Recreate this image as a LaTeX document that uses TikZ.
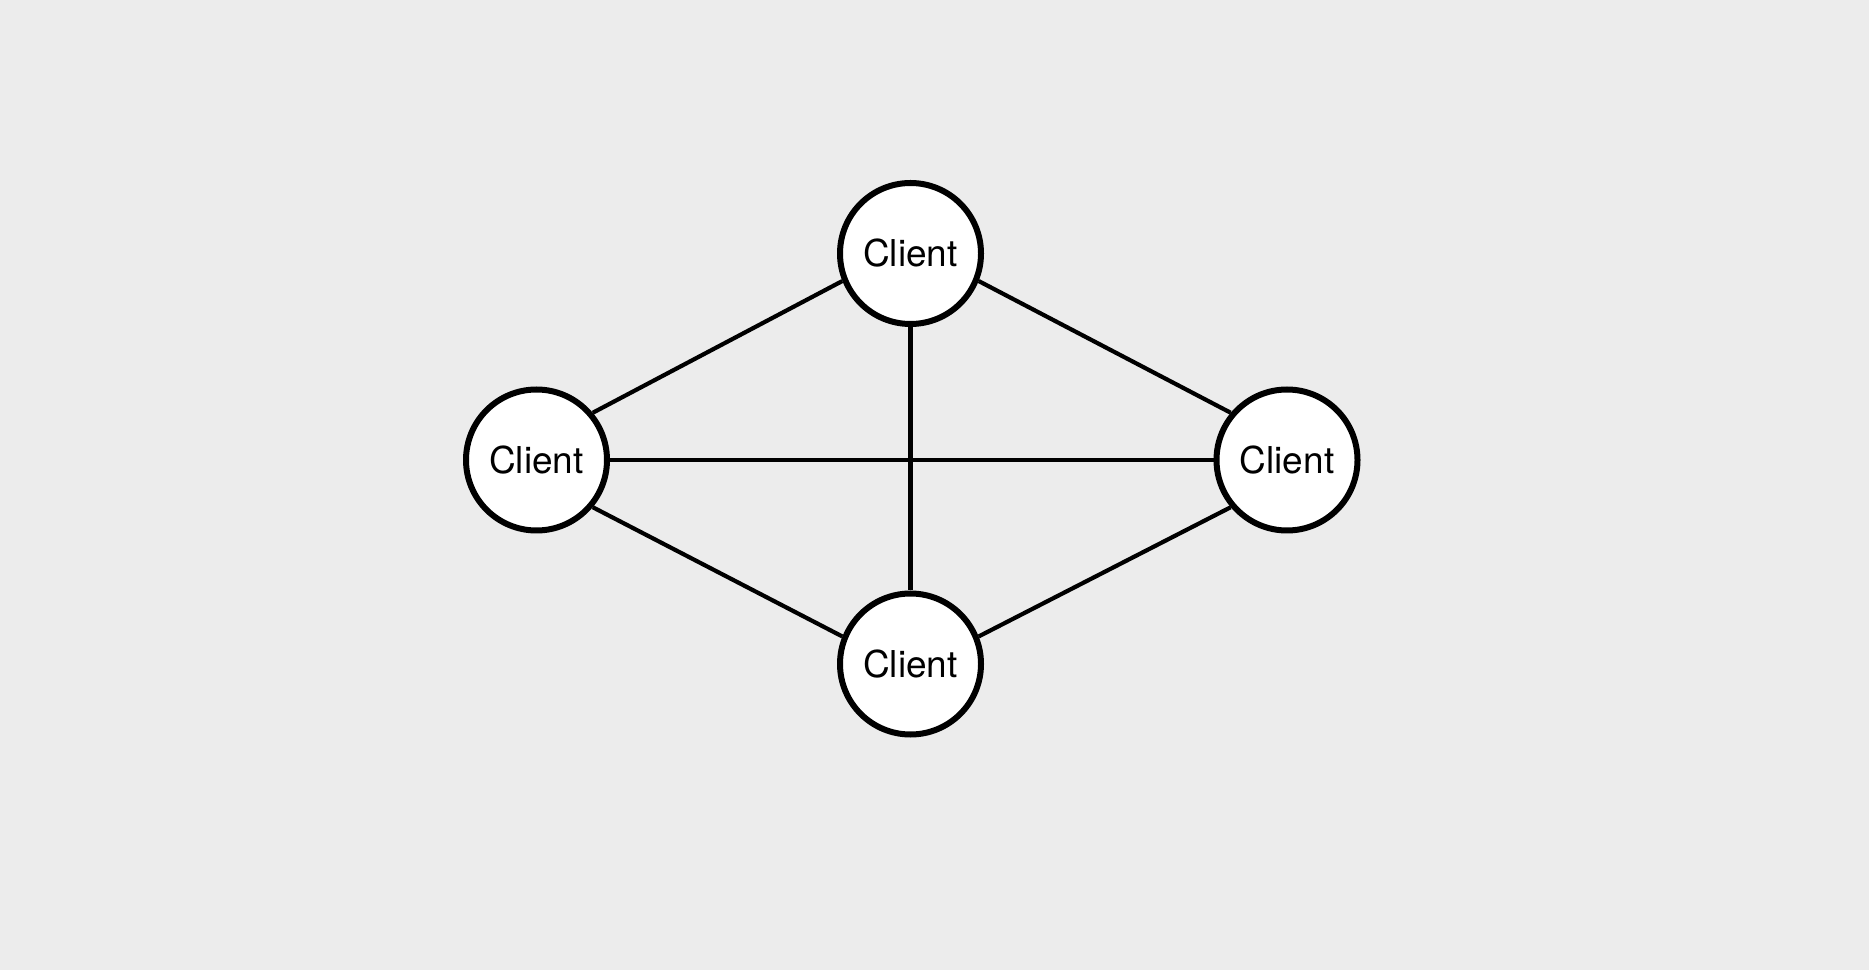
\documentclass[tikz,border=0pt]{standalone}
\usepackage{fontspec}
\setmainfont{TeX Gyre Heros}
\usepackage{tikz}
\usetikzlibrary{positioning}
\definecolor{meshbg}{HTML}{ECECEC}
\definecolor{meshink}{HTML}{000000}

\begin{document}
\begin{tikzpicture}[x=1pt,y=1pt,
    client/.style={circle,draw=meshink,fill=white,line width=6pt,minimum size=141pt,inner sep=0pt,font=\fontsize{37}{44}\selectfont},
    link/.style={draw=meshink,line width=4.2pt}]
    \fill[meshbg] (0,0) rectangle (1869,970);
    \useasboundingbox (0,0) rectangle (1869,970);
    \node[client] (top) at (910.5,716.5) {Client};
    \node[client] (left) at (536.5,510) {Client};
    \node[client] (right) at (1287,510) {Client};
    \node[client] (bottom) at (910.5,306) {Client};
    \draw[link] (top.202) -- (left.40);
    \draw[link] (top.-22) -- (right.140);
    \draw[link] (top) -- (bottom);
    \draw[link] (left) -- (right);
    \draw[link] (left.-40) -- (bottom.158);
    \draw[link] (right.220) -- (bottom.22);
\end{tikzpicture}
\end{document}
